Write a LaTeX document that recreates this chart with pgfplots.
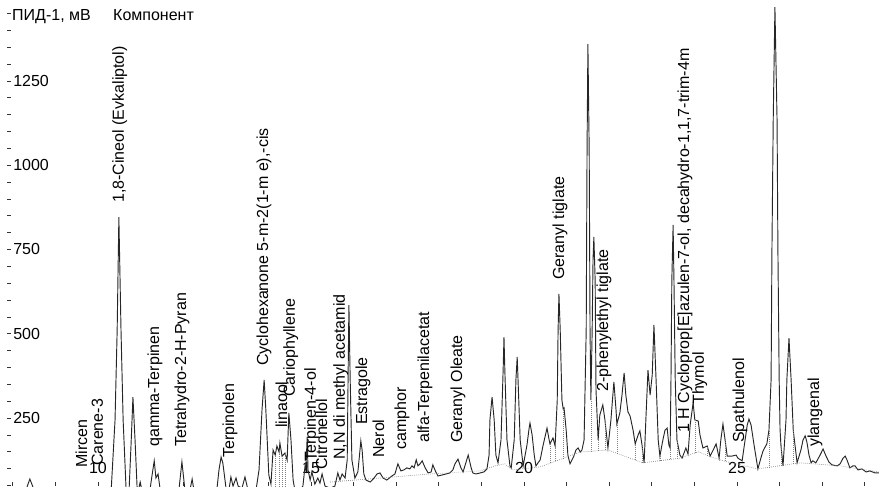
\documentclass[border=0pt]{standalone}
\usepackage{pgfplots}
\pgfplotsset{compat=1.18}
\usepackage{fontspec}
\setmainfont{Liberation Sans}
\newcommand\lbl{\fontsize{12}{14}\selectfont}
\begin{document}
\begin{tikzpicture}
\begin{axis}[
  name=chrom,
  scale only axis, width=654pt, height=364.5pt,
  xmin=7.864, xmax=28.333, ymin=48.3, ymax=1489.8,
  axis line style={draw=none},
  clip mode=individual,
  xtick={10,15,20,25}, minor xtick={8,...,28},
  ytick={250,500,750,1000,1250}, minor ytick={50,100,...,1450},
  xtick pos=lower, ytick pos=left,
  tick align=inside,
  major tick length=3pt, minor tick length=3pt,
  every tick/.style={black!80, line width=0.5pt},
  /pgf/number format/assume math mode=true,
  /pgf/number format/1000 sep={},
  tick label style={font=\lbl, text=black},
  yticklabel style={anchor=west, inner sep=0pt, xshift=4.5pt},
  xticklabel style={anchor=base, inner sep=0pt, yshift=9.75pt},
]
% detector signal
\addplot[black!85, line width=0.7pt] table {
x v
7.70 37
8.31 37
8.40 69
8.50 37
10.31 37
10.40 244
10.45 511
10.49 846
10.54 511
10.59 244
10.66 37
10.73 37
10.78 184
10.82 312
10.87 184
10.92 37
10.96 42
10.99 60
11.03 37
11.22 37
11.27 81
11.32 123
11.36 72
11.41 84
11.46 37
11.90 37
11.97 120
12.04 37
12.16 37
12.21 69
12.25 37
12.79 37
12.84 96
12.89 134
12.93 117
13.01 37
13.08 42
13.12 75
13.17 48
13.24 72
13.29 48
13.38 42
13.45 75
13.52 37
13.71 37
13.78 96
13.85 274
13.90 363
13.94 274
14.01 81
14.06 54
14.11 155
14.16 140
14.20 167
14.25 149
14.27 176
14.32 137
14.39 146
14.44 125
14.48 265
14.53 185
14.58 66
14.62 37
14.74 37
14.81 48
14.86 108
14.88 96
14.91 194
14.93 96
14.98 66
15.02 90
15.09 54
15.16 72
15.21 57
15.26 84
15.33 48
15.45 42
15.56 48
15.63 87
15.68 66
15.73 84
15.80 72
15.85 126
15.87 363
15.89 585
15.92 363
15.96 126
16.03 72
16.10 90
16.15 155
16.17 182
16.20 155
16.24 84
16.29 66
16.39 60
16.48 72
16.55 84
16.62 87
16.69 72
16.78 66
16.90 78
16.97 84
17.04 114
17.11 93
17.18 96
17.25 102
17.32 99
17.37 108
17.42 102
17.47 126
17.51 108
17.56 114
17.61 123
17.68 102
17.75 87
17.82 90
17.86 111
17.93 90
17.98 78
18.08 81
18.17 84
18.26 87
18.33 96
18.38 114
18.45 128
18.52 102
18.57 90
18.62 111
18.69 140
18.76 102
18.80 87
18.87 84
18.97 87
19.06 90
19.13 99
19.18 140
19.20 244
19.25 312
19.30 244
19.34 140
19.39 117
19.46 185
19.51 392
19.53 490
19.55 392
19.60 185
19.67 108
19.70 102
19.77 185
19.81 363
19.84 431
19.86 363
19.91 185
19.98 108
20.07 170
20.12 220
20.14 235
20.19 200
20.24 140
20.28 108
20.38 126
20.45 170
20.54 220
20.59 185
20.61 173
20.68 191
20.73 167
20.78 303
20.80 511
20.82 618
20.85 511
20.89 303
20.92 277
20.94 280
20.99 214
21.03 140
21.08 114
21.17 137
21.22 155
21.27 161
21.32 149
21.36 155
21.41 185
21.46 511
21.48 1045
21.50 1359
21.53 1045
21.55 511
21.57 303
21.60 511
21.62 719
21.64 787
21.67 659
21.69 333
21.74 185
21.78 259
21.85 289
21.90 244
21.97 161
22.04 244
22.11 357
22.16 274
22.18 232
22.25 265
22.30 318
22.35 384
22.39 318
22.44 268
22.49 256
22.56 214
22.61 173
22.68 200
22.72 212
22.77 170
22.82 117
22.86 244
22.91 392
22.96 318
23.01 378
23.05 526
23.10 363
23.15 185
23.19 137
23.26 185
23.31 214
23.36 220
23.40 170
23.43 161
23.45 363
23.47 659
23.50 823
23.52 659
23.55 363
23.59 185
23.66 140
23.71 131
23.80 161
23.85 143
23.90 229
23.97 295
24.01 244
24.09 241
24.13 200
24.20 161
24.30 167
24.37 137
24.44 155
24.51 173
24.58 131
24.62 185
24.67 232
24.72 185
24.77 137
24.88 137
24.98 140
25.02 131
25.12 123
25.19 185
25.24 229
25.28 247
25.33 229
25.40 170
25.49 99
25.56 131
25.61 152
25.66 164
25.70 173
25.75 214
25.80 363
25.82 749
25.85 1134
25.89 1469
25.94 1134
25.96 749
25.99 363
26.01 217
26.03 170
26.08 108
26.15 244
26.17 363
26.22 487
26.27 363
26.32 214
26.41 117
26.50 155
26.55 185
26.60 197
26.64 179
26.69 140
26.74 117
26.78 123
26.85 117
26.95 140
27.02 158
27.09 137
27.16 119
27.23 111
27.35 108
27.42 114
27.49 131
27.54 137
27.58 126
27.65 102
27.72 108
27.77 108
27.84 96
27.93 99
28.03 90
28.12 93
28.24 87
28.33 87
};
% integration baseline
\addplot[gray, densely dotted, line width=0.5pt] table {
x v
15.45 60
16.62 72
17.79 84
18.97 93
19.32 108
19.55 114
19.72 96
20.38 105
21.32 149
21.97 155
22.79 117
23.66 131
24.10 150
24.37 135
24.77 120
25.49 99
26.48 117
27.42 108
28.33 90
};
% peak separation drops
\addplot[gray, densely dotted, line width=0.5pt, unbounded coords=jump] coordinates {
(14.16,45) (14.16,140) (14.16,nan)
(14.25,45) (14.25,149) (14.25,nan)
(14.32,45) (14.32,137) (14.32,nan)
(14.39,45) (14.39,146) (14.39,nan)
(20.61,118) (20.61,173) (20.61,nan)
(20.73,122) (20.73,167) (20.73,nan)
(20.92,128) (20.92,277) (20.92,nan)
(21.57,150) (21.57,303) (21.57,nan)
(21.74,153) (21.74,185) (21.74,nan)
(21.90,155) (21.90,244) (21.90,nan)
(22.18,143) (22.18,232) (22.18,nan)
(22.61,125) (22.61,173) (22.61,nan)
(22.77,118) (22.77,170) (22.77,nan)
(23.19,123) (23.19,137) (23.19,nan)
(23.43,128) (23.43,161) (23.43,nan)
(23.59,130) (23.59,185) (23.59,nan)
(24.01,146) (24.01,244) (24.01,nan)
(24.30,139) (24.30,167) (24.30,nan)
(24.72,122) (24.72,185) (24.72,nan)
(25.75,104) (25.75,214) (25.75,nan)
(26.03,109) (26.03,170) (26.03,nan)
(26.32,114) (26.32,214)
};
% headings
\node[anchor=base west, inner sep=0pt, font=\lbl] at (axis cs:7.98,1430) {ПИД-1, мВ};
\node[anchor=base west, inner sep=0pt, font=\lbl] at (axis cs:10.35,1430) {Компонент};
% component names
\begin{scope}[every node/.style={rotate=90, anchor=base west, inner sep=0pt, font=\lbl}]
\node at (axis cs:9.742,101.7) {Mircen};
\node at (axis cs:10.117,107.7) {Carene-3};
\node at (axis cs:10.610,887.7) {1,8-Cineol (Evkaliptol)};
\node at (axis cs:11.432,164.0) {qamma-Terpinen};
\node at (axis cs:12.066,164.0) {Tetrahydro-2-H-Pyran};
\node at (axis cs:13.193,131.4) {Terpinolen};
\node at (axis cs:13.991,404.3) {Cyclohexanone 5-m-2(1-m e),-cis};
\node at (axis cs:14.437,220.4) {linaool};
\node at (axis cs:14.624,312.3) {Cariophyllene};
\node at (axis cs:15.117,119.5) {Terpinen-4-ol};
\node at (axis cs:15.376,95.8) {Citronellol};
\node at (axis cs:15.798,125.5) {N,N di methyl acetamid};
\node at (axis cs:16.315,229.3) {Estragole};
\node at (axis cs:16.714,131.4) {Nerol};
\node at (axis cs:17.230,155.1) {camphor};
\node at (axis cs:17.770,175.9) {alfa-Terpenilacetat};
\node at (axis cs:18.545,175.9) {Geranyl Oleate};
\node at (axis cs:20.939,659.4) {Geranyl tiglate};
\node at (axis cs:21.972,327.2) {2-phenylethyl tiglate};
\node at (axis cs:23.873,205.6) {1 H Cycloprop[E]azulen-7-ol, decahydro-1,1,7-trim-4m};
\node at (axis cs:24.225,288.6) {Thymol};
\node at (axis cs:25.164,175.9) {Spathulenol};
\node at (axis cs:26.925,164.0) {ylangenal};
\end{scope}
\end{axis}
\path ([xshift=-5.25pt]chrom.south west) rectangle (chrom.north east);
\end{tikzpicture}
\end{document}
